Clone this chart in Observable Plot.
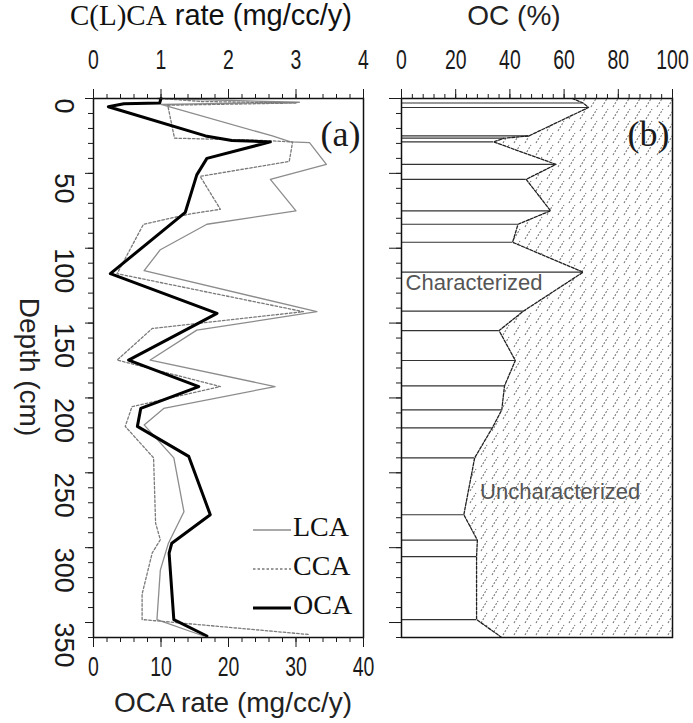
<!DOCTYPE html>
<html><head><meta charset="utf-8">
<script src="https://cdn.jsdelivr.net/npm/d3@7"></script>
<script src="https://cdn.jsdelivr.net/npm/@observablehq/plot@0.6"></script>
<style>
body{margin:0;background:#fff;}
#wrap{display:flex;width:693px;height:723px;position:relative;}
</style></head><body><div id="wrap"></div>
<script>
// ---- data ----
const ocaDepth = [0, 3, 3.5, 5.5, 25, 28, 29, 40, 51, 76, 117, 143.5, 174.7, 192.4, 207, 219, 239, 278, 297, 303.6, 348, 359];
const ocaRate  = [10, 9.8, 4.5, 2.2, 16.6, 20.5, 26.2, 16.8, 15.3, 13.6, 2.5, 18.3, 5.2, 15.6, 7, 6.5, 14.1, 17.3, 11.6, 11.2, 11.9, 16.8];

const lcaDepth = [0, 2.5, 4, 25, 29, 29.5, 44, 54, 75, 84, 101, 115, 142.4, 154.7, 174.7, 192.4, 207, 218, 240, 276, 297, 315, 348, 359];
const lcaRate  = [0.95, 3.05, 1.0, 2.65, 2.92, 3.2, 3.45, 2.62, 3.0, 1.68, 0.99, 0.75, 3.31, 1.53, 0.84, 2.69, 1.04, 0.75, 1.19, 1.34, 1.11, 0.99, 0.94, 1.63];

const ccaDepth = [0, 2, 3, 4.5, 26.5, 28, 29, 42, 52, 74, 77, 84, 117, 142.4, 153.6, 174.7, 192.4, 205.8, 219, 240, 283.6, 294.7, 303.5, 331, 348, 358];
const ccaRate  = [1.0, 1.6, 3.0, 1.1, 1.2, 2.5, 2.95, 2.9, 1.58, 1.88, 1.44, 0.74, 0.35, 3.11, 0.87, 0.35, 1.88, 0.57, 0.47, 0.89, 0.92, 0.99, 0.87, 0.72, 0.72, 3.19];

const ocDepth = [0, 3, 6, 25, 26.5, 29, 44, 54, 75, 84, 96, 116, 142, 155, 175, 192, 208, 220, 240, 278, 295, 306, 348, 360];
const ocValue = [63, 67, 69, 47, 38, 34, 57, 46, 55, 43, 41, 67, 45, 36, 42, 38, 37, 33.5, 27, 23, 28, 27.7, 27.7, 37];

const depthTicks = [0, 50, 100, 150, 200, 250, 300, 350];
const ocaTicks = [0, 10, 20, 30, 40];
const clcaTicks = [0, 1, 2, 3, 4];
const ocTicks = [0, 20, 40, 60, 80, 100];
const seriesNames = ["LCA", "CCA", "OCA"];

// ---- tables ----
const oca = ocaDepth.map((d, i) => ({depth: d, rate: ocaRate[i]}));
const lca = lcaDepth.map((d, i) => ({depth: d, rate: lcaRate[i]}));
const cca = ccaDepth.map((d, i) => ({depth: d, rate: ccaRate[i]}));
const oc = ocDepth.map((d, i) => ({depth: d, oc: ocValue[i]}));
const samples = oc.slice(1, -1);

const sans = "'Liberation Sans',Arial,sans-serif";
const serif = "'Liberation Serif','Times New Roman',serif";
const tickFont = 27;
const SCALE = 10; // C(L)CA top-axis units -> OCA bottom-axis units

const minor = (ticks) => ({tickFormat: () => "", label: null, ticks});

// ---- panel (a) ----
const A = Plot.plot({
  width: 380, height: 723,
  marginLeft: 93, marginRight: 17, marginTop: 98, marginBottom: 86,
  style: {background: "transparent", fontFamily: sans, fontSize: tickFont + "px", color: "#1a1a1a", overflow: "visible"},
  x: {domain: [0, 40]},
  y: {domain: [0, 360], reverse: true},
  marks: [
    Plot.line(lca, {x: d => d.rate * SCALE, y: "depth", stroke: "#8c8c8c", strokeWidth: 1.3}),
    Plot.line(cca, {x: d => d.rate * SCALE, y: "depth", stroke: "#7a7a7a", strokeWidth: 1.3, strokeDasharray: "2.5,2"}),
    Plot.line(oca, {x: "rate", y: "depth", stroke: "#000", strokeWidth: 3}),
    Plot.frame({stroke: "#111", strokeWidth: 1.5}),
    Plot.axisX({anchor: "top", ...minor(d3.range(0, 40.01, 2)), tickSize: 5}),
    Plot.axisX({anchor: "top", ticks: ocaTicks, tickSize: 10, tickPadding: 20, tickFormat: d => d / SCALE, label: null}),
    Plot.axisX({anchor: "bottom", ...minor(d3.range(0, 40.01, 2)), tickSize: 5}),
    Plot.axisX({anchor: "bottom", ticks: ocaTicks, tickSize: 10, tickPadding: 9, label: null}),
    Plot.axisY({anchor: "left", ...minor(d3.range(0, 361, 10)), tickSize: 5}),
    Plot.axisY({anchor: "left", ...minor(depthTicks), tickSize: 8}),
    Plot.text(depthTicks, {y: d => d, text: d => String(d), frameAnchor: "left", dx: -30, rotate: 90, fontSize: tickFont, ariaLabel: "ytick-lab"}),
    Plot.text(["(a)"], {frameAnchor: "top-right", dx: -3, dy: 22, fontFamily: serif, fontSize: 36, textAnchor: "end"})
  ]
});

// ---- panel (b) ----
const B = Plot.plot({
  width: 313, height: 723,
  marginLeft: 21, marginRight: 21, marginTop: 98, marginBottom: 86,
  style: {background: "transparent", fontFamily: sans, fontSize: tickFont + "px", color: "#1a1a1a", overflow: "visible"},
  x: {domain: [0, 100]},
  y: {domain: [0, 360], reverse: true},
  marks: [
    Plot.areaX(oc, {y: "depth", x1: "oc", x2: 100, fill: "url(#hatchOC)"}),
    Plot.ruleY(samples, {y: "depth", x1: 0, x2: "oc", stroke: "#333", strokeWidth: 1.2}),
    Plot.line(oc, {x: "oc", y: "depth", stroke: "#222", strokeWidth: 1.3, strokeDasharray: "3,1.5"}),
    Plot.frame({stroke: "#111", strokeWidth: 1.5}),
    Plot.axisX({anchor: "top", ...minor(d3.range(0, 100.1, 4)), tickSize: 5}),
    Plot.axisX({anchor: "top", ticks: ocTicks, tickSize: 10, tickPadding: 20, label: null}),
    Plot.axisY({anchor: "left", ...minor(d3.range(0, 361, 10)), tickSize: 5}),
    Plot.axisY({anchor: "left", ...minor(depthTicks), tickSize: 12}),
    Plot.text(["Characterized"], {x: 1.5, y: 123, textAnchor: "start", fill: "#555", fontSize: 22, fontFamily: sans}),
    Plot.text(["Uncharacterized"], {x: 29, y: 263, textAnchor: "start", fill: "#555", fontSize: 22, fontFamily: sans}),
    Plot.text(["(b)"], {frameAnchor: "top-right", dx: -3, dy: 22, fontFamily: serif, fontSize: 36, textAnchor: "end"})
  ]
});

// narrow the tick-label glyphs (the reference uses a condensed face)
function narrow(svg) {
  d3.select(svg).selectAll("g[aria-label$='tick label'] text, g[aria-label='ytick-lab'] text").each(function() {
    const el = d3.select(this);
    const t = el.attr("transform");
    if (t) el.attr("transform", t + " scale(0.72,1)");
  });
}
narrow(A); narrow(B);

// hatch pattern
const defs = d3.select(B).insert("defs", ":first-child");
const pat = defs.append("pattern").attr("id", "hatchOC").attr("patternUnits", "userSpaceOnUse")
  .attr("width", 11).attr("height", 12);
pat.append("path").attr("d", "M2,11 L8,1").attr("stroke", "#777").attr("stroke-width", 1.1)
  .attr("stroke-dasharray", "2,1.5").attr("fill", "none");

// axis titles
const sa = d3.select(A);
const t1 = sa.append("text").attr("x", 70).attr("y", 25).attr("text-anchor", "start").attr("font-size", 29).attr("fill", "#111");
t1.append("tspan").attr("font-family", serif).text("C(L)CA");
t1.append("tspan").attr("font-family", sans).text(" rate (mg/cc/y)");
sa.append("text").attr("x", 233).attr("y", 712).attr("text-anchor", "middle").attr("font-size", 28)
  .attr("font-family", sans).attr("fill", "#222").text("OCA rate (mg/cc/y)");
sa.append("text").attr("transform", "translate(27,367) rotate(90)").attr("text-anchor", "middle")
  .attr("dominant-baseline", "middle").attr("font-size", 28).attr("font-family", sans).attr("fill", "#222").text("Depth (cm)");

d3.select(B).append("text").attr("x", 134).attr("y", 25).attr("text-anchor", "middle").attr("font-size", 28)
  .attr("font-family", sans).attr("fill", "#222").text("OC (%)");

// legend (inside panel a)
const styles = {
  LCA: {stroke: "#8c8c8c", width: 1.3, dash: null},
  CCA: {stroke: "#7a7a7a", width: 1.3, dash: "2.5,2"},
  OCA: {stroke: "#000", width: 3, dash: null}
};
const lg = sa.append("g");
seriesNames.forEach((name, i) => {
  const y = 530 + i * 39;
  const s = styles[name];
  lg.append("line").attr("x1", 253).attr("x2", 291).attr("y1", y).attr("y2", y)
    .attr("stroke", s.stroke).attr("stroke-width", s.width).attr("stroke-dasharray", s.dash);
  lg.append("text").attr("x", 293).attr("y", y).attr("text-anchor", "start").attr("dominant-baseline", "middle")
    .attr("font-family", serif).attr("font-size", 28).attr("fill", "#111").text(name);
});

document.getElementById("wrap").append(A, B);
</script></body></html>
